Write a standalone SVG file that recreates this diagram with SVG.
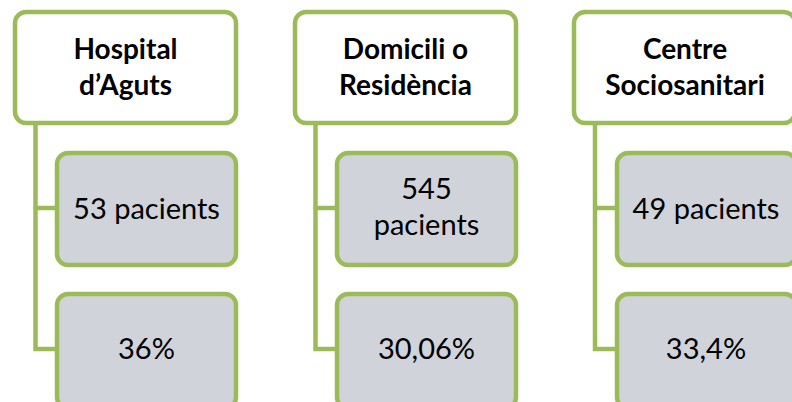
<svg xmlns="http://www.w3.org/2000/svg" width="792" height="402" viewBox="0 0 792 402">
<style>
.top{fill:#FFFFFF;stroke:#9BBB59;stroke-width:4.5}
.child{fill:#D0D3DA;stroke:#9BBB59;stroke-width:4.5}
.conn{fill:none;stroke:#9BBB59;stroke-width:4.5}
.t{font-family:Lato,"Liberation Sans",sans-serif;font-weight:bold;font-size:28px;fill:#000;text-anchor:middle}
.c{font-family:Lato,"Liberation Sans",sans-serif;font-size:29px;fill:#000;text-anchor:middle}
</style>
<g id="connectors">
<path class="conn" d="M35.5 125 V349 H57 M35.5 208 H57"/>
<path class="conn" d="M315.5 125 V349 H337 M315.5 208 H337"/>
<path class="conn" d="M595 125 V349 H617 M595 208 H617"/>
</g>
<g id="hospital">
<rect class="top" x="15" y="12" width="221" height="111" rx="11"/>
<text class="t" x="125.5" y="59">Hospital</text>
<text class="t" x="125.5" y="95">d’Aguts</text>
</g>
<g id="hospital-pacients">
<rect class="child" x="57" y="153" width="179" height="112" rx="11"/>
<text class="c" x="146.5" y="219">53 pacients</text>
</g>
<g id="hospital-pct">
<rect class="child" x="57" y="294" width="179" height="114" rx="11"/>
<text class="c" x="146.5" y="359">36%</text>
</g>
<g id="domicili">
<rect class="top" x="295" y="12" width="221" height="111" rx="11"/>
<text class="t" x="405.5" y="59">Domicili o</text>
<text class="t" x="405.5" y="95">Residència</text>
</g>
<g id="domicili-pacients">
<rect class="child" x="337" y="153" width="179" height="112" rx="11"/>
<text class="c" x="426.5" y="199">545</text>
<text class="c" x="426.5" y="235">pacients</text>
</g>
<g id="domicili-pct">
<rect class="child" x="337" y="294" width="179" height="114" rx="11"/>
<text class="c" x="426.5" y="359">30,06%</text>
</g>
<g id="centre">
<rect class="top" x="574" y="12" width="221" height="111" rx="11"/>
<text class="t" x="685" y="59">Centre</text>
<text class="t" x="685" y="95">Sociosanitari</text>
</g>
<g id="centre-pacients">
<rect class="child" x="617" y="153" width="179" height="112" rx="11"/>
<text class="c" x="706" y="219">49 pacients</text>
</g>
<g id="centre-pct">
<rect class="child" x="617" y="294" width="179" height="114" rx="11"/>
<text class="c" x="706" y="359">33,4%</text>
</g>
</svg>
